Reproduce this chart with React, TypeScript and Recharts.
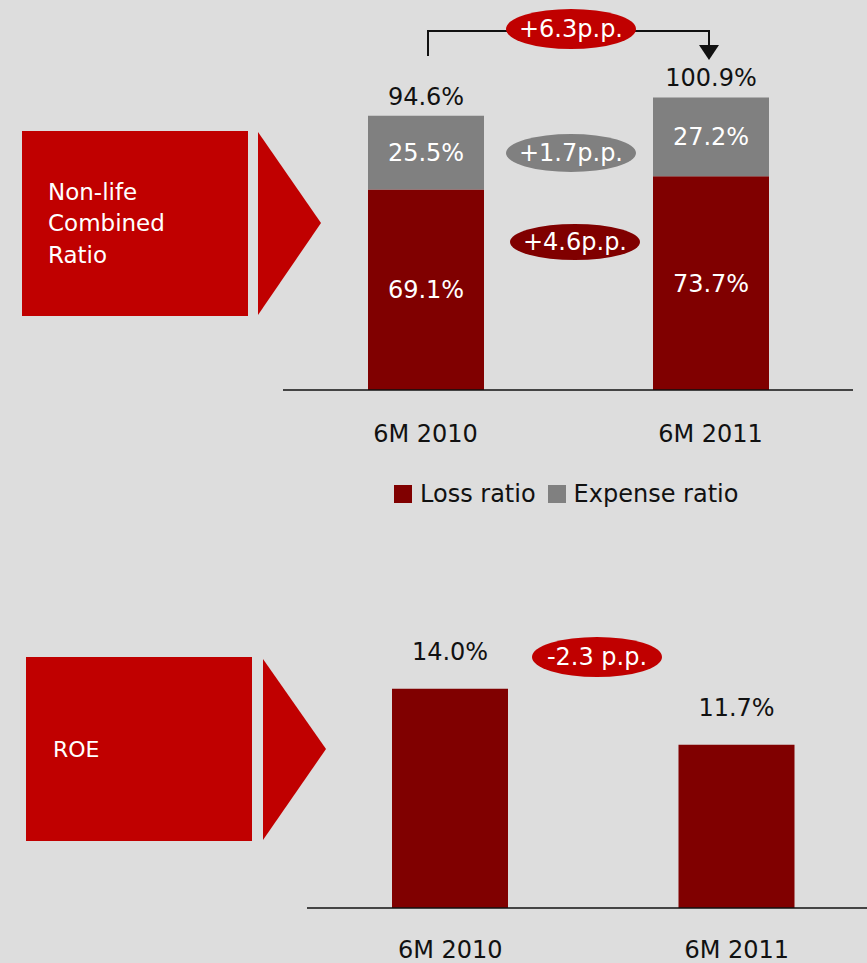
import React from 'react';
import { BarChart, Bar, XAxis, YAxis, LabelList } from 'recharts';

const periods = ['6M 2010', '6M 2011'];
const lossRatio = [69.1, 73.7];
const expenseRatio = [25.5, 27.2];
const combinedRatio = [94.6, 100.9];
const roe = [14.0, 11.7];

const series = [
  { key: 'loss', name: 'Loss ratio', color: '#800000' },
  { key: 'expense', name: 'Expense ratio', color: '#808080' },
];

const FONT = '"DejaVu Sans", Verdana, sans-serif';

const combinedData = periods.map((p, i) => ({
  name: p,
  loss: lossRatio[i],
  expense: expenseRatio[i],
  total: combinedRatio[i],
}));

const roeData = periods.map((p, i) => ({ name: p, roe: roe[i] }));

const pct = (v: number) => `${v.toFixed(1)}%`;

const CategoryTick = ({ x, y, payload, dy }: any) => (
  <text
    x={x}
    y={y}
    dy={dy}
    textAnchor="middle"
    dominantBaseline="central"
    fill="#111"
    fontSize={24}
    fontFamily={FONT}
  >
    {payload.value}
  </text>
);

const TotalLabel = (props: any) => {
  const { x, y, width, index } = props;
  return (
    <text
      x={x + width / 2}
      y={y - 19}
      textAnchor="middle"
      dominantBaseline="central"
      fill="#111"
      fontSize={24}
      fontFamily={FONT}
    >
      {pct(combinedRatio[index])}
    </text>
  );
};

const RoeLabel = (props: any) => {
  const { x, y, width, index } = props;
  return (
    <text
      x={x + width / 2}
      y={y - 37}
      textAnchor="middle"
      dominantBaseline="central"
      fill="#111"
      fontSize={24}
      fontFamily={FONT}
    >
      {pct(roe[index])}
    </text>
  );
};

const Pill = ({ cx, cy, rx, ry, fill, text }: any) => (
  <g>
    <ellipse cx={cx} cy={cy} rx={rx} ry={ry} fill={fill} />
    <text
      x={cx}
      y={cy}
      textAnchor="middle"
      dominantBaseline="central"
      fill="#fff"
      fontSize={24}
      fontFamily={FONT}
    >
      {text}
    </text>
  </g>
);

export default function App() {
  return (
    <div
      style={{
        position: 'absolute',
        top: 0,
        left: 0,
        width: 867,
        height: 963,
        background: '#dddddd',
        overflow: 'hidden',
        fontFamily: FONT,
      }}
    >
      {/* Non-life combined ratio */}
      <div style={{ position: 'absolute', left: 0, top: 0 }}>
        <BarChart
          width={867}
          height={470}
          data={combinedData}
          margin={{ top: 42, right: 14, left: 283, bottom: 20 }}
        >
          <XAxis
            dataKey="name"
            height={60}
            tickLine={false}
            axisLine={{ stroke: '#111', strokeWidth: 1.5 }}
            tick={<CategoryTick dy={36} />}
          />
          <YAxis hide width={0} domain={[0, 120]} />
          <Bar
            dataKey="loss"
            stackId="a"
            fill={series[0].color}
            barSize={116}
            isAnimationActive={false}
          >
            <LabelList
              dataKey="loss"
              position="center"
              fill="#fff"
              fontSize={24}
              fontFamily={FONT}
              formatter={(v: any) => pct(Number(v))}
            />
          </Bar>
          <Bar
            dataKey="expense"
            stackId="a"
            fill={series[1].color}
            barSize={116}
            isAnimationActive={false}
          >
            <LabelList
              dataKey="expense"
              position="center"
              fill="#fff"
              fontSize={24}
              fontFamily={FONT}
              formatter={(v: any) => pct(Number(v))}
            />
            <LabelList dataKey="total" content={<TotalLabel />} />
          </Bar>
        </BarChart>
      </div>

      {/* legend */}
      <div
        style={{
          position: 'absolute',
          left: 394,
          top: 480,
          display: 'flex',
          alignItems: 'center',
          fontSize: 24,
          color: '#111',
          whiteSpace: 'nowrap',
        }}
      >
        {series.map((s, i) => (
          <div
            key={s.key}
            style={{ display: 'flex', alignItems: 'center', marginLeft: i ? 12 : 0 }}
          >
            <span
              style={{ width: 18, height: 18, background: s.color, marginRight: 8 }}
            />
            <span>{s.name}</span>
          </div>
        ))}
      </div>

      {/* ROE */}
      <div style={{ position: 'absolute', left: 0, top: 600 }}>
        <BarChart
          width={880}
          height={363}
          data={roeData}
          margin={{ top: 40, right: 0, left: 307, bottom: 0 }}
        >
          <XAxis
            dataKey="name"
            height={55}
            tickLine={false}
            axisLine={{ stroke: '#111', strokeWidth: 1.5 }}
            tick={<CategoryTick dy={34} />}
          />
          <YAxis hide width={0} domain={[5, 16]} allowDataOverflow />
          <Bar dataKey="roe" fill="#800000" barSize={116} isAnimationActive={false}>
            <LabelList dataKey="roe" content={<RoeLabel />} />
          </Bar>
        </BarChart>
      </div>

      {/* decorations */}
      <svg
        width={867}
        height={963}
        style={{ position: 'absolute', left: 0, top: 0, pointerEvents: 'none' }}
      >
        <rect x={22} y={131} width={226} height={185} fill="#c00000" />
        <polygon points="258,132 321,223 258,315" fill="#c00000" />
        <text fill="#fff" fontSize={23} fontFamily={FONT} dominantBaseline="central">
          <tspan x={48} y={192}>Non-life</tspan>
          <tspan x={48} y={223}>Combined</tspan>
          <tspan x={48} y={255}>Ratio</tspan>
        </text>

        <rect x={26} y={657} width={226} height={184} fill="#c00000" />
        <polygon points="263,659 326,749 263,840" fill="#c00000" />
        <text
          x={53}
          y={749}
          fill="#fff"
          fontSize={22}
          fontFamily={FONT}
          dominantBaseline="central"
        >
          ROE
        </text>

        <polyline
          points="428,56 428,31 709,31 709,46"
          fill="none"
          stroke="#111"
          strokeWidth={2}
        />
        <polygon points="699,45 719,45 709,60" fill="#111" />
        <Pill cx={571} cy={29} rx={65} ry={20} fill="#c00000" text="+6.3p.p." />
        <Pill cx={571} cy={153} rx={65} ry={19} fill="#808080" text="+1.7p.p." />
        <Pill cx={575} cy={242} rx={65} ry={18} fill="#800000" text="+4.6p.p." />
        <Pill cx={597} cy={657} rx={65} ry={20} fill="#c00000" text="-2.3 p.p." />
      </svg>
    </div>
  );
}
